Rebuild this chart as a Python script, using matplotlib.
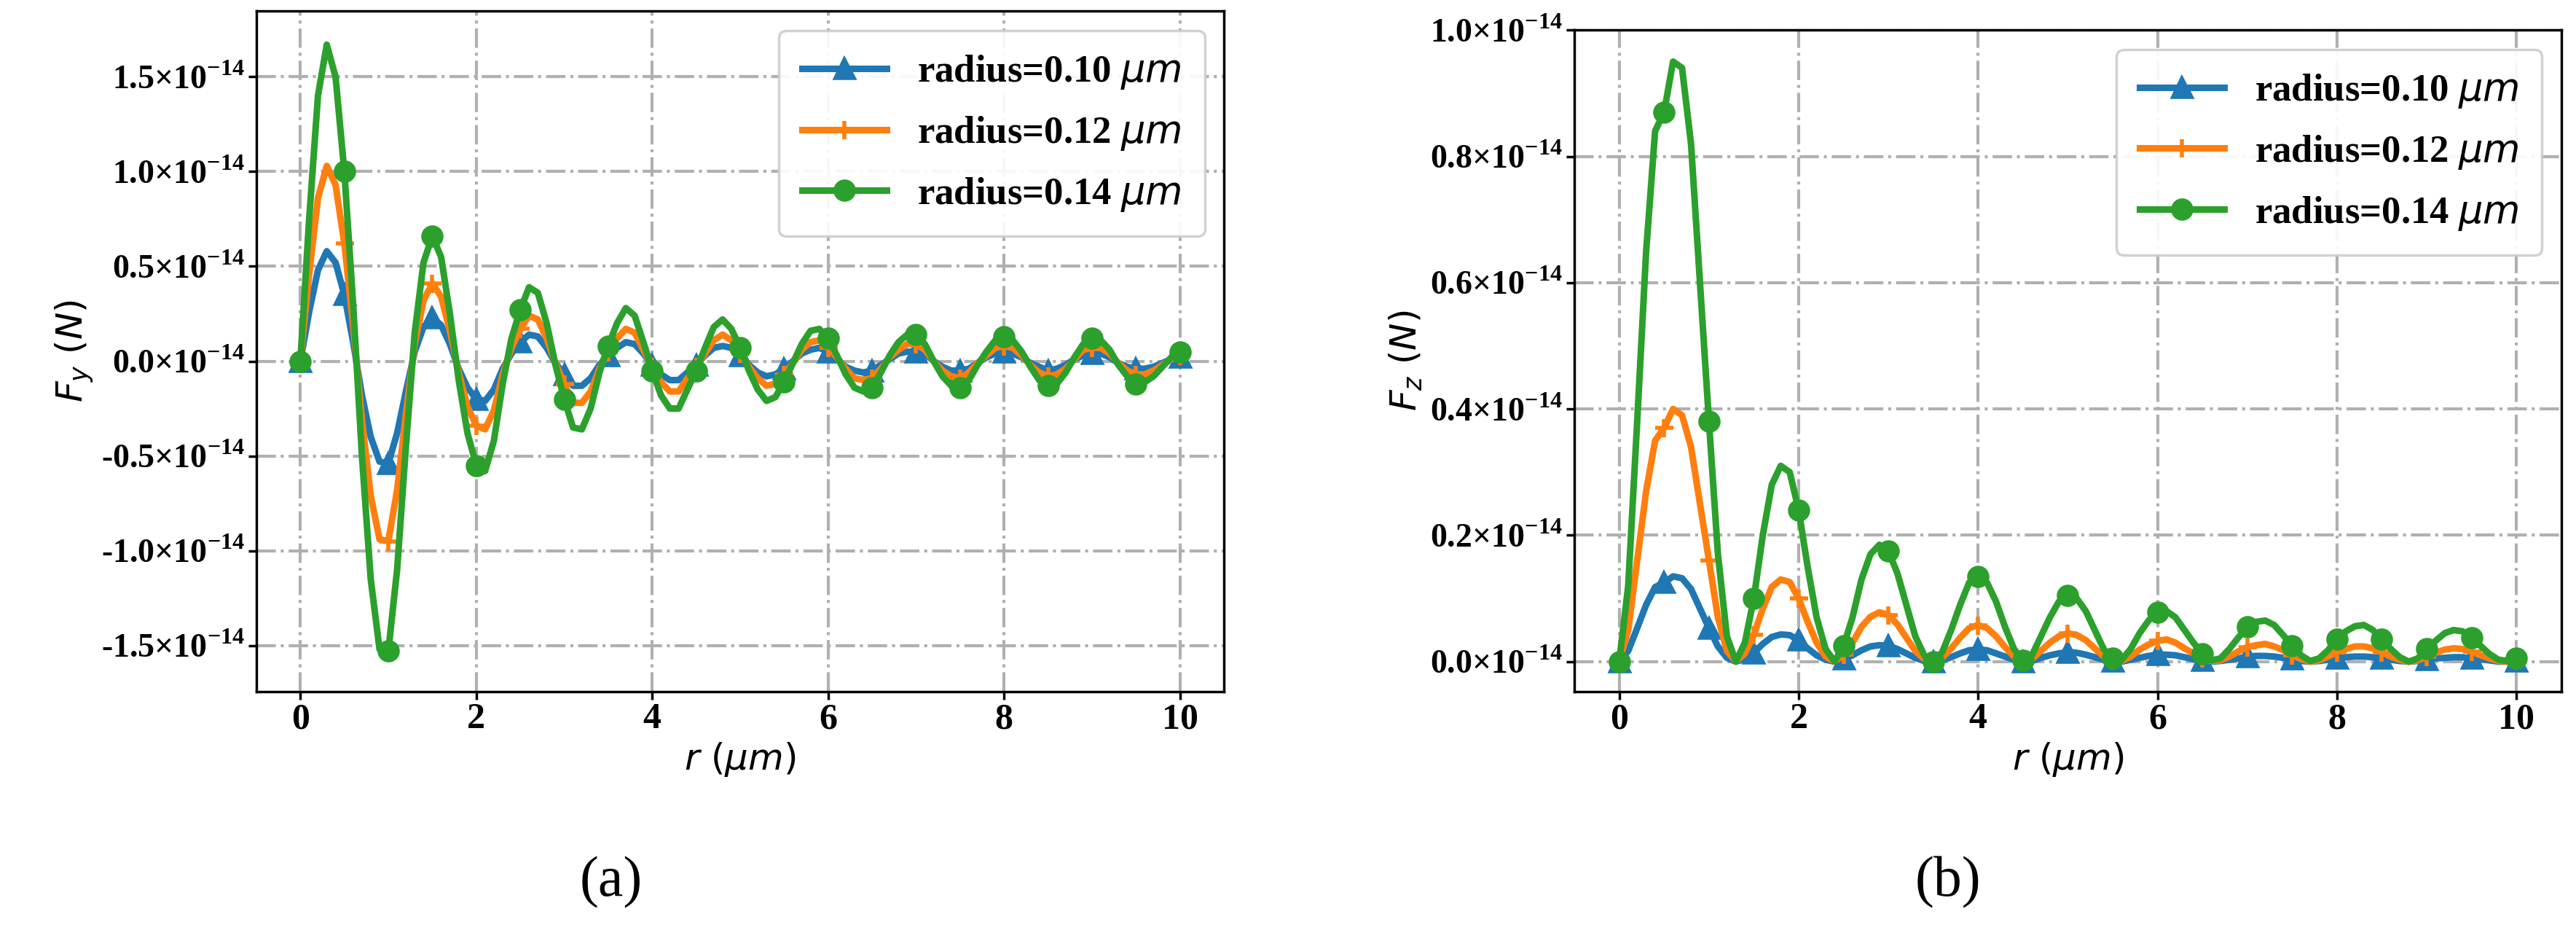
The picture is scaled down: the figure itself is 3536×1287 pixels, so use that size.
import numpy as np
import matplotlib
matplotlib.use("Agg")
import matplotlib.pyplot as plt

# r sampled every 0.1 um from 0 to 10 (101 points); forces in units of 1e-14 N
r = [round(0.1 * i, 1) for i in range(101)]
labels = ["radius=0.10 $\\mathit{\\mu m}$", "radius=0.12 $\\mathit{\\mu m}$", "radius=0.14 $\\mathit{\\mu m}$"]

fy_010 = [0, 0.26, 0.48, 0.58, 0.52, 0.35, 0.10, -0.18, -0.40, -0.53,
          -0.54, -0.38, -0.16, 0.05, 0.18, 0.23, 0.19, 0.09, -0.04, -0.14,
          -0.20, -0.21, -0.15, -0.04, 0.04, 0.10, 0.14, 0.13, 0.07, -0.01,
          -0.07, -0.13, -0.13, -0.09, -0.02, 0.03, 0.07, 0.10, 0.09, 0.04,
          -0.02, -0.07, -0.10, -0.10, -0.06, -0.02, 0.03, 0.07, 0.08, 0.07,
          0.03, -0.02, -0.06, -0.08, -0.07, -0.04, 0.00, 0.04, 0.06, 0.07,
          0.05, 0.01, -0.03, -0.05, -0.06, -0.05, -0.02, 0.01, 0.04, 0.05,
          0.05, 0.04, 0.00, -0.03, -0.05, -0.05, -0.04, -0.01, 0.02, 0.04,
          0.05, 0.04, 0.02, -0.01, -0.03, -0.05, -0.04, -0.02, 0.01, 0.03,
          0.04, 0.04, 0.02, -0.01, -0.03, -0.04, -0.04, -0.03, -0.01, 0.01,
          0.02]
fy_012 = [0, 0.46, 0.86, 1.03, 0.93, 0.62, 0.19, -0.31, -0.71, -0.94,
          -0.95, -0.68, -0.28, 0.09, 0.32, 0.41, 0.34, 0.16, -0.06, -0.24,
          -0.34, -0.36, -0.26, -0.07, 0.07, 0.17, 0.24, 0.22, 0.12, -0.01,
          -0.12, -0.22, -0.22, -0.16, -0.04, 0.05, 0.12, 0.17, 0.15, 0.06,
          -0.03, -0.11, -0.16, -0.16, -0.09, -0.03, 0.04, 0.11, 0.14, 0.11,
          0.04, -0.03, -0.09, -0.13, -0.12, -0.07, -0.01, 0.06, 0.10, 0.11,
          0.07, 0.02, -0.04, -0.09, -0.10, -0.09, -0.04, 0.02, 0.06, 0.09,
          0.09, 0.06, 0.00, -0.05, -0.08, -0.09, -0.06, -0.01, 0.03, 0.07,
          0.08, 0.07, 0.03, -0.02, -0.06, -0.08, -0.07, -0.04, 0.01, 0.06,
          0.07, 0.07, 0.04, -0.01, -0.05, -0.07, -0.07, -0.05, -0.02, 0.01,
          0.03]
fy_014 = [0, 0.75, 1.40, 1.67, 1.50, 1.00, 0.30, -0.50, -1.15, -1.52,
          -1.53, -1.10, -0.45, 0.15, 0.52, 0.66, 0.55, 0.25, -0.10, -0.38,
          -0.55, -0.58, -0.42, -0.12, 0.12, 0.27, 0.39, 0.36, 0.20, -0.02,
          -0.20, -0.35, -0.36, -0.25, -0.06, 0.08, 0.20, 0.28, 0.24, 0.10,
          -0.05, -0.18, -0.25, -0.25, -0.15, -0.05, 0.07, 0.18, 0.22, 0.17,
          0.07, -0.05, -0.15, -0.21, -0.19, -0.11, -0.01, 0.09, 0.16, 0.17,
          0.12, 0.03, -0.07, -0.14, -0.16, -0.14, -0.06, 0.03, 0.10, 0.14,
          0.14, 0.09, 0.00, -0.08, -0.13, -0.14, -0.10, -0.02, 0.05, 0.11,
          0.13, 0.11, 0.05, -0.03, -0.10, -0.13, -0.12, -0.06, 0.02, 0.09,
          0.12, 0.11, 0.06, -0.02, -0.08, -0.12, -0.11, -0.08, -0.03, 0.02,
          0.05]

fz_010 = [0, 0.017, 0.053, 0.090, 0.118, 0.125, 0.135, 0.132, 0.115, 0.084,
          0.053, 0.024, 0.006, 0, 0.004, 0.014, 0.028, 0.039, 0.043, 0.042,
          0.034, 0.021, 0.010, 0.003, 0, 0.004, 0.010, 0.018, 0.024, 0.026,
          0.025, 0.020, 0.013, 0.006, 0.001, 0, 0.002, 0.007, 0.013, 0.018,
          0.019, 0.018, 0.013, 0.008, 0.003, 0, 0.001, 0.006, 0.010, 0.013,
          0.015, 0.014, 0.011, 0.007, 0.003, 0.001, 0, 0.003, 0.006, 0.009,
          0.011, 0.011, 0.010, 0.007, 0.004, 0.002, 0, 0.001, 0.003, 0.005,
          0.008, 0.009, 0.009, 0.008, 0.006, 0.004, 0.001, 0, 0.001, 0.003,
          0.005, 0.007, 0.008, 0.008, 0.007, 0.005, 0.003, 0.001, 0, 0.001,
          0.003, 0.005, 0.006, 0.007, 0.007, 0.005, 0.004, 0.002, 0, 0,
          0.001]
fz_012 = [0, 0.05, 0.16, 0.27, 0.35, 0.37, 0.40, 0.39, 0.34, 0.25,
          0.16, 0.07, 0.017, 0, 0.013, 0.042, 0.084, 0.118, 0.130, 0.126,
          0.100, 0.063, 0.030, 0.008, 0, 0.011, 0.030, 0.055, 0.071, 0.078,
          0.074, 0.059, 0.038, 0.017, 0.004, 0, 0.006, 0.021, 0.038, 0.053,
          0.058, 0.053, 0.040, 0.023, 0.008, 0.001, 0.004, 0.017, 0.030, 0.040,
          0.045, 0.042, 0.034, 0.021, 0.008, 0.002, 0.001, 0.008, 0.019, 0.027,
          0.033, 0.035, 0.030, 0.021, 0.013, 0.005, 0.001, 0.002, 0.008, 0.016,
          0.023, 0.026, 0.028, 0.024, 0.018, 0.010, 0.004, 0, 0.002, 0.008,
          0.015, 0.020, 0.024, 0.024, 0.021, 0.015, 0.008, 0.003, 0, 0.002,
          0.008, 0.014, 0.019, 0.021, 0.020, 0.016, 0.010, 0.005, 0.001, 0,
          0.002]
fz_014 = [0, 0.12, 0.38, 0.65, 0.84, 0.87, 0.95, 0.94, 0.82, 0.60,
          0.38, 0.17, 0.04, 0.0, 0.03, 0.10, 0.20, 0.28, 0.31, 0.30,
          0.24, 0.15, 0.07, 0.02, 0.0, 0.025, 0.07, 0.13, 0.17, 0.185,
          0.175, 0.14, 0.09, 0.04, 0.01, 0.0, 0.015, 0.05, 0.09, 0.125,
          0.135, 0.125, 0.095, 0.055, 0.02, 0.002, 0.01, 0.04, 0.07, 0.095,
          0.105, 0.10, 0.08, 0.05, 0.02, 0.005, 0.003, 0.02, 0.045, 0.065,
          0.078, 0.08, 0.07, 0.05, 0.03, 0.012, 0.002, 0.005, 0.02, 0.038,
          0.055, 0.063, 0.065, 0.058, 0.042, 0.025, 0.01, 0.001, 0.005, 0.018,
          0.035, 0.048, 0.056, 0.058, 0.05, 0.035, 0.02, 0.007, 0.0, 0.005,
          0.02, 0.033, 0.045, 0.05, 0.048, 0.038, 0.025, 0.012, 0.003, 0.001,
          0.005]

fy_ticks = [-1.5, -1.0, -0.5, 0.0, 0.5, 1.0, 1.5]
fz_ticks = [0.0, 0.2, 0.4, 0.6, 0.8, 1.0]
x_ticks = [0, 2, 4, 6, 8, 10]

colors = ["#1f77b4", "#ff7f0e", "#2ca02c"]
markers = ["^", "+", "o"]

serif = "Liberation Serif"
plt.rcParams['mathtext.fontset'] = 'dejavusans'

fig = plt.figure(figsize=(35.37, 12.87), dpi=100)
ax1 = fig.add_axes([0.0995, 0.263, 0.3755, 0.725])
ax2 = fig.add_axes([0.611, 0.263, 0.383, 0.705])

def style(ax, series, yticks, ylim, ylabel):
    for y, c, m, lab in zip(series, colors, markers, labels):
        ax.plot(r, y, color=c, marker=m, markevery=5, lw=6.5, ms=18,
                mew=4, label=lab)
    ax.set_xlim(-0.5, 10.5)
    ax.set_ylim(*ylim)
    ax.set_xticks(x_ticks)
    ax.set_xticklabels([str(t) for t in x_ticks], fontfamily=serif,
                       fontweight='bold', fontsize=36)
    ax.set_yticks(yticks)
    ax.set_yticklabels(["%.1f\u00d710$^{\\mathregular{-14}}$" % t for t in yticks],
                       fontsize=33, fontfamily=serif, fontweight='bold')
    ax.tick_params(width=2.5, length=8)
    ax.grid(True, ls='-.', color='#b0b0b0', lw=3)
    for s in ax.spines.values():
        s.set_linewidth(2.5)
    ax.set_xlabel("$r$ $(\\mu m)$", fontsize=36)
    ax.set_ylabel(ylabel, fontsize=36, labelpad=6)
    leg = ax.legend(loc='upper right', prop={'family': serif, 'weight': 'bold', 'size': 38},
                    handlelength=2.2, borderpad=0.6, labelspacing=0.6, framealpha=0.9)
    leg.get_frame().set_linewidth(2.5)

style(ax1, [fy_010, fy_012, fy_014], fy_ticks, (-1.742, 1.846), "$F_y$ $(N)$")
style(ax2, [fz_010, fz_012, fz_014], fz_ticks, (-0.047, 1.0), "$F_z$ $(N)$")

fig.text(0.237, 0.045, "(a)", fontsize=56, fontfamily=serif, ha='center')
fig.text(0.756, 0.045, "(b)", fontsize=56, fontfamily=serif, ha='center')

fig.savefig("out.png", dpi=100)
